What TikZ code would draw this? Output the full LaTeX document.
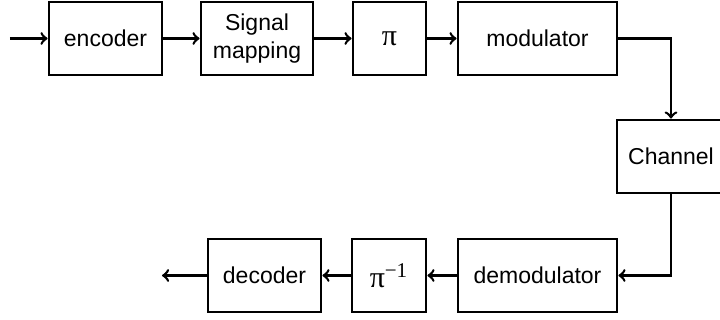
\documentclass[tikz,border=0pt]{standalone}
\usepackage{fontspec}
\setmainfont{Liberation Sans}
\newfontfamily\greekfont{Liberation Serif}
\begin{document}
\begin{tikzpicture}[x=0.5pt,y=-0.5pt,
  blk/.style={draw, line width=1.4pt, minimum height=36.5pt, inner sep=1pt, align=center, font=\fontsize{11.5}{14}\selectfont},
  pibox/.style={blk, font=\greekfont\fontsize{15}{16}\selectfont},
  link/.style={->, line width=1.3pt}]
\useasboundingbox (0,0) rectangle (720,320);
\node[blk, minimum width=56.5pt] (enc) at (105.5,38.5) {encoder};
\node[blk, minimum width=56pt] (map) at (257,38.5) {Signal\\mapping};
\node[pibox, minimum width=36.5pt] (pi) at (389.5,38.5) {π};
\node[blk, minimum width=79.5pt] (mod) at (537.5,38.5) {modulator};
\node[blk, minimum width=54pt] (chan) at (671,156.5) {Channel};
\node[blk, minimum width=79.5pt] (demod) at (537.5,275.5) {demodulator};
\node[pibox, minimum width=37pt] (piinv) at (389,275.5) {π\textsuperscript{−1}};
\node[blk, minimum width=56.5pt] (dec) at (264.5,275.5) {decoder};
\coordinate (in) at (10,38.5);
\coordinate (out) at (162,275.5);
\draw[link] (in) -- (enc);
\draw[link] (enc) -- (map);
\draw[link] (map) -- (pi);
\draw[link] (pi) -- (mod);
\draw[link] (mod.east) -| (chan.north);
\draw[link] (chan.south) |- (demod.east);
\draw[link] (demod) -- (piinv);
\draw[link] (piinv) -- (dec);
\draw[link] (dec) -- (out);
\end{tikzpicture}
\end{document}
